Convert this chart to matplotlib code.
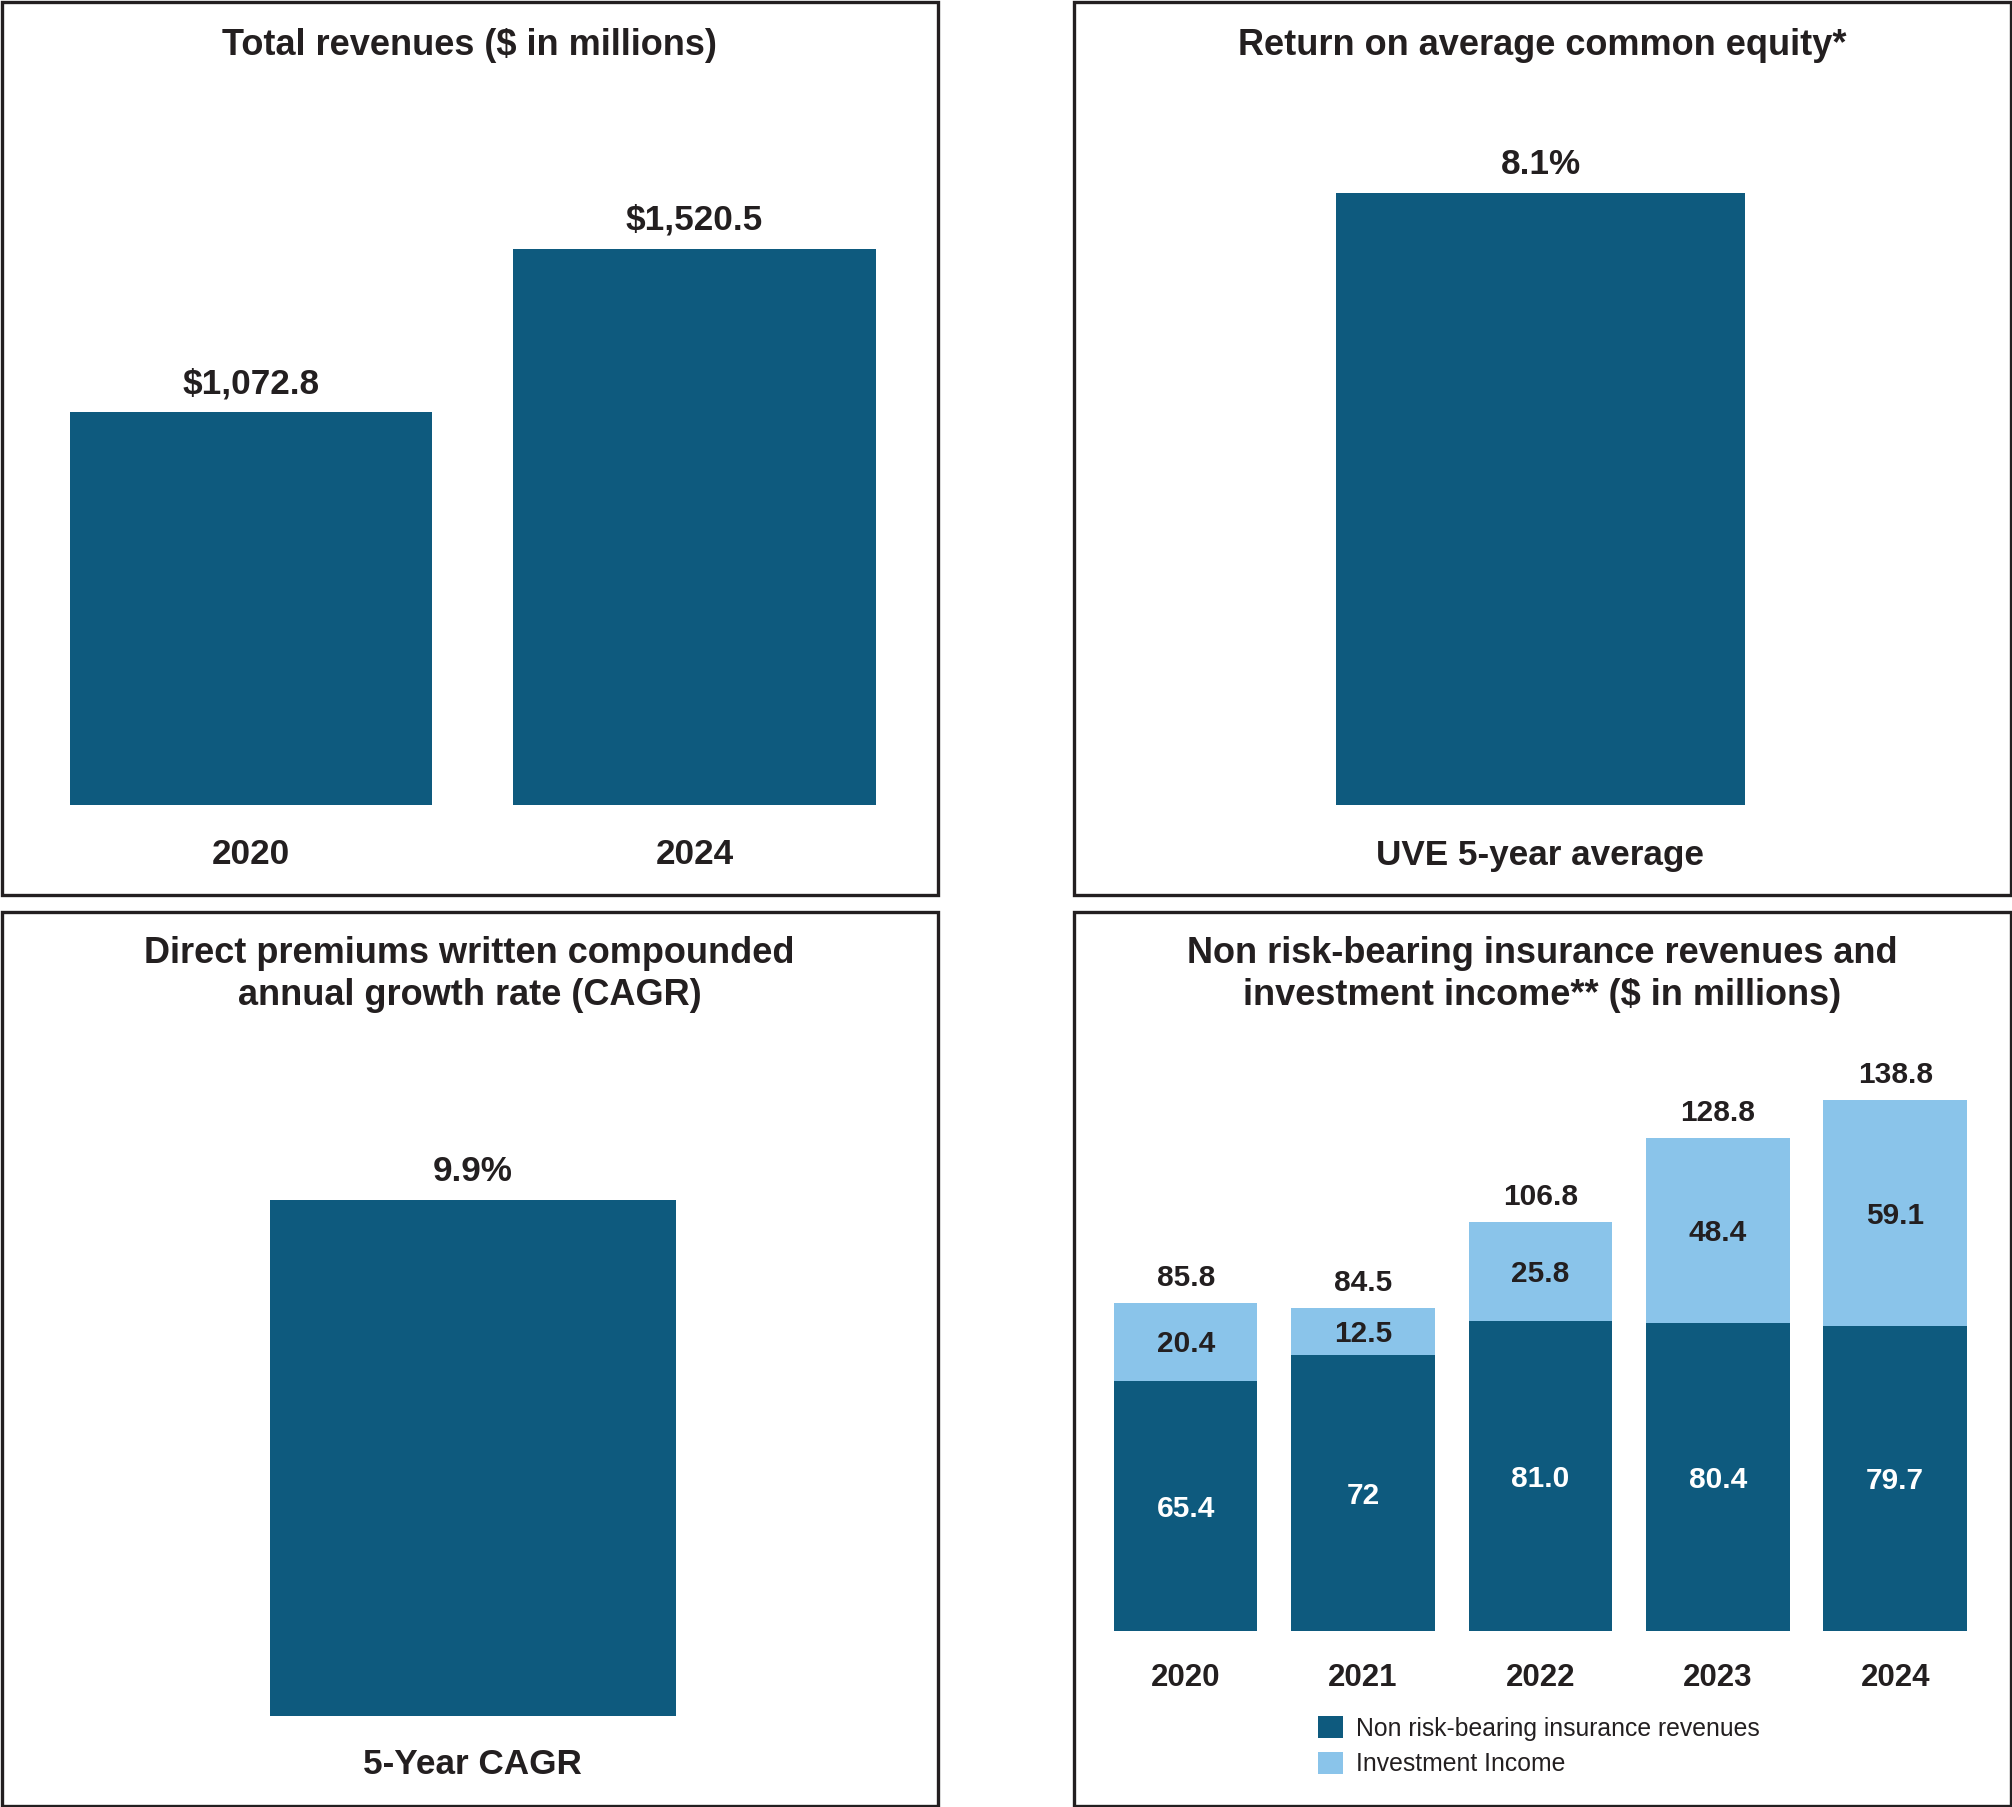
import matplotlib
matplotlib.use("Agg")
import matplotlib.pyplot as plt
from matplotlib.patches import Rectangle

# ---------------- data ----------------
rev_years = ["2020", "2024"]
rev_values = [1072.8, 1520.5]
rev_labels = ["$1,072.8", "$1,520.5"]

roe_cats = ["UVE 5-year average"]
roe_values = [8.1]
roe_labels = ["8.1%"]

cagr_cats = ["5-Year CAGR"]
cagr_values = [9.9]
cagr_labels = ["9.9%"]

nrb_years = ["2020", "2021", "2022", "2023", "2024"]
nrb_values = [65.4, 72, 81.0, 80.4, 79.7]
nrb_labels = ["65.4", "72", "81.0", "80.4", "79.7"]
inv_values = [20.4, 12.5, 25.8, 48.4, 59.1]
inv_labels = ["20.4", "12.5", "25.8", "48.4", "59.1"]
tot_labels = ["85.8", "84.5", "106.8", "128.8", "138.8"]

# ---------------- style ----------------
W, H = 2012, 1807
DPI = 100
DARK = "#0E5A7E"
LIGHT = "#8AC4EA"
INK = "#231F20"
FONT = "Liberation Sans"
plt.rcParams["font.family"] = [FONT, "DejaVu Sans"]

fig = plt.figure(figsize=(W / DPI, H / DPI), dpi=DPI)
fig.patch.set_facecolor("white")


def fx(x):
    return x / W


def fy(y):
    return 1 - y / H


def add_ax(x0, x1, ytop, ybot):
    ax = fig.add_axes([fx(x0), fy(ybot), (x1 - x0) / W, (ybot - ytop) / H])
    ax.set_axis_off()
    return ax


def box(x0, x1, y0, y1):
    fig.patches.append(Rectangle((fx(x0), fy(y1)), (x1 - x0) / W, (y1 - y0) / H,
                                 transform=fig.transFigure, fill=False,
                                 edgecolor=INK, linewidth=2.4))


def ftext(x, y, s, size=26, weight="bold", color=INK):
    fig.text(fx(x), fy(y), s, ha="center", va="baseline", fontsize=size,
             fontweight=weight, color=color)


# panel frames
box(1.5, 937.5, 1.5, 894.5)
box(1073.5, 2010.5, 1.5, 894.5)
box(1.5, 937.5, 912, 1805.5)
box(1073.5, 2010.5, 912, 1805.5)

# ---------------- panel 1: total revenues ----------------
w1 = 0.8176
ax1 = add_ax(69.6, 876.0, 248.6, 805.2)
x1 = list(range(len(rev_years)))
ax1.bar(x1, rev_values, width=w1, color=DARK)
ax1.set_xlim(-w1 / 2, len(x1) - 1 + w1 / 2)
ax1.set_ylim(0, max(rev_values))
for xi, v, lab in zip(x1, rev_values, rev_labels):
    ax1.annotate(lab, (xi, v), xytext=(0, 19), textcoords="offset pixels",
                 ha="center", va="baseline", fontsize=25.3, fontweight="bold",
                 color=INK, annotation_clip=False)
    ax1.annotate(rev_years[xi], (xi, 0), xytext=(0, -59), textcoords="offset pixels",
                 ha="center", va="baseline", fontsize=25.3, fontweight="bold",
                 color=INK, annotation_clip=False)
ftext(469.5, 55, "Total revenues ($ in millions)")

# ---------------- panel 2: ROE ----------------
ax2 = add_ax(1335.8, 1745.1, 192.7, 805.2)
ax2.bar([0], roe_values, width=1.0, color=DARK)
ax2.set_xlim(-0.5, 0.5)
ax2.set_ylim(0, max(roe_values))
ax2.annotate(roe_labels[0], (0, roe_values[0]), xytext=(0, 19), textcoords="offset pixels",
             ha="center", va="baseline", fontsize=25.3, fontweight="bold",
             color=INK, annotation_clip=False)
ax2.annotate(roe_cats[0], (0, 0), xytext=(0, -60), textcoords="offset pixels",
             ha="center", va="baseline", fontsize=25.3, fontweight="bold",
             color=INK, annotation_clip=False)
ftext(1542, 55, "Return on average common equity*")

# ---------------- panel 3: CAGR ----------------
ax3 = add_ax(269.5, 676.2, 1199.8, 1715.6)
ax3.bar([0], cagr_values, width=1.0, color=DARK)
ax3.set_xlim(-0.5, 0.5)
ax3.set_ylim(0, max(cagr_values))
ax3.annotate(cagr_labels[0], (0, cagr_values[0]), xytext=(0, 19), textcoords="offset pixels",
             ha="center", va="baseline", fontsize=25.3, fontweight="bold",
             color=INK, annotation_clip=False)
ax3.annotate(cagr_cats[0], (0, 0), xytext=(0, -58), textcoords="offset pixels",
             ha="center", va="baseline", fontsize=25.3, fontweight="bold",
             color=INK, annotation_clip=False)
ftext(469.5, 963, "Direct premiums written compounded")
ftext(469.5, 1005, "annual growth rate (CAGR)")

# ---------------- panel 4: stacked ----------------
w4 = 0.81
ax4 = add_ax(1113.8, 1967.1, 1099.7, 1631.0)
x4 = list(range(len(nrb_years)))
totals = [a + b for a, b in zip(nrb_values, inv_values)]
b1 = ax4.bar(x4, nrb_values, width=w4, color=DARK, label="Non risk-bearing insurance revenues")
b2 = ax4.bar(x4, inv_values, width=w4, bottom=nrb_values, color=LIGHT, label="Investment Income")
ax4.set_xlim(-w4 / 2, len(x4) - 1 + w4 / 2)
ax4.set_ylim(0, max(totals))
for xi in x4:
    a, b = nrb_values[xi], inv_values[xi]
    ax4.annotate(nrb_labels[xi], (xi, a / 2), xytext=(0, -10.7), textcoords="offset pixels",
                 ha="center", va="baseline", fontsize=21.5, fontweight="bold",
                 color="white", annotation_clip=False)
    ax4.annotate(inv_labels[xi], (xi, a + b / 2), xytext=(0, -10.7), textcoords="offset pixels",
                 ha="center", va="baseline", fontsize=21.5, fontweight="bold",
                 color=INK, annotation_clip=False)
    ax4.annotate(tot_labels[xi], (xi, a + b), xytext=(0, 17), textcoords="offset pixels",
                 ha="center", va="baseline", fontsize=21.5, fontweight="bold",
                 color=INK, annotation_clip=False)
    ax4.annotate(nrb_years[xi], (xi, 0), xytext=(0, -55), textcoords="offset pixels",
                 ha="center", va="baseline", fontsize=22.5, fontweight="bold",
                 color=INK, annotation_clip=False)
ftext(1542, 963, "Non risk-bearing insurance revenues and")
ftext(1542, 1005, "investment income** ($ in millions)")

leg = ax4.legend(handles=[b1, b2], loc="upper left",
                 bbox_to_anchor=(fx(1318), fy(1716)), bbox_transform=fig.transFigure,
                 frameon=False, fontsize=17.8, handlelength=1.0, handleheight=1.0,
                 handletextpad=0.55, labelspacing=0.46, borderpad=0, borderaxespad=0)
for t in leg.get_texts():
    t.set_color(INK)

fig.savefig("out.png", dpi=DPI, facecolor="white")
